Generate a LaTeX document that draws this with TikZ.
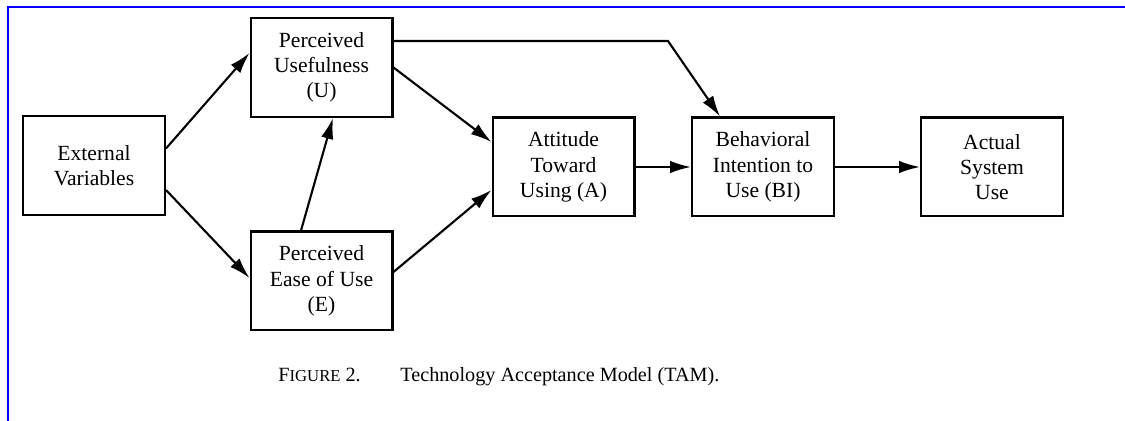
\documentclass[tikz,border=0pt]{standalone}
\usepackage{fontspec}
\setmainfont{Liberation Serif}
\usetikzlibrary{arrows.meta}

\begin{document}
\begin{tikzpicture}[x=0.02cm,y=-0.02cm,
  box/.style={draw,line width=1.15pt,minimum width=2.84cm,minimum height=1.98cm,
    align=center,inner sep=2pt,font=\fontsize{12.3}{14.4}\selectfont},
  arr/.style={line width=1.2pt,-{Latex[length=0.42cm,width=0.25cm]}}]
 \useasboundingbox (0,0) rectangle (1125,421);
 \draw[blue,line width=0.9pt] (8,421) -- (8,7) -- (1125,7);
 % the six boxes
 \node[box] (ev) at (94,165.5) {External\\Variables};
 \node[box] (pu) at (321.5,67.5) {Perceived\\Usefulness\\(U)};
 \node[box] (peou) at (321.5,281) {Perceived\\Ease of Use\\(E)};
 \node[box] (att) at (563.5,167) {Attitude\\Toward\\Using (A)};
 \node[box] (bi) at (763,167) {Behavioral\\Intention to\\Use (BI)};
 \node[box] (use) at (992,167) {Actual\\System\\Use};
 % arrows
 \draw[arr] ([yshift=0.34cm]ev.east) -- ([yshift=0.29cm]pu.west);
 \draw[arr] ([yshift=-0.49cm]ev.east) -- ([yshift=0.06cm]peou.west);
 \draw[arr] ([xshift=-0.41cm]peou.north) -- ([xshift=0.23cm]pu.south);
 \draw[arr] (pu.east) -- ([yshift=0.5cm]att.west);
 \draw[arr] ([yshift=0.18cm]peou.east) -- ([yshift=-0.46cm]att.west);
 \coordinate (bend) at (668,41);
 \draw[arr] ([yshift=0.53cm]pu.east) -- (bend) -- ([xshift=-0.86cm]bi.north);
 \draw[arr] (att) -- (bi);
 \draw[arr] (bi) -- (use);
 % caption
 \node[anchor=base west,inner sep=0pt,font=\fontsize{11.5}{14}\selectfont] (fig) at (278,382) {F{\fontsize{9.5}{11}\selectfont IGURE} 2.};
 \node[anchor=base west,inner sep=0pt,font=\fontsize{11.5}{14}\selectfont] (title) at (400,382) {Technology Acceptance Model (TAM).};
\end{tikzpicture}
\end{document}
